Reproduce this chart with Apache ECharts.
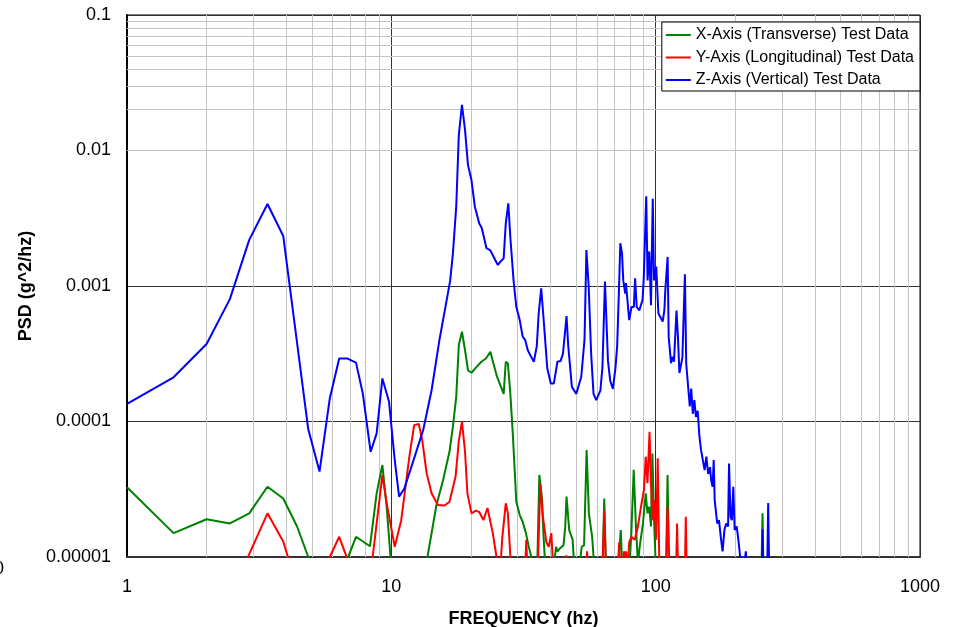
<!DOCTYPE html>
<html><head><meta charset="utf-8">
<script src="https://cdn.jsdelivr.net/npm/echarts@6/dist/echarts.min.js"></script>
<style>html,body{margin:0;padding:0;background:#fff}#c{width:955px;height:627px}</style>
</head><body><div id="c"></div>
<script>
// ---------- tick labels ----------
const xTickLabels = ['1', '10', '100', '1000'];
const yTickLabels = ['0.00001', '0.0001', '0.001', '0.01', '0.1'];
const xMinorTicks = [2,3,4,5,6,7,8,9,20,30,40,50,60,70,80,90,200,300,400,500,600,700,800,900];
const yMinorTicks = [2e-5,3e-5,4e-5,5e-5,6e-5,7e-5,8e-5,9e-5,2e-4,3e-4,4e-4,5e-4,6e-4,7e-4,8e-4,9e-4,
                     2e-3,3e-3,4e-3,5e-3,6e-3,7e-3,8e-3,9e-3,2e-2,3e-2,4e-2,5e-2,6e-2,7e-2,8e-2,9e-2];
const seriesNames = ['X-Axis (Transverse) Test Data', 'Y-Axis (Longitudinal) Test Data', 'Z-Axis (Vertical) Test Data'];

// ---------- X-Axis (Transverse) ----------
const transFreq = [
 1,1.5,2,2.45,2.9,3.4,3.9,4.4,4.85,5.35,
 5.85,6.35,6.8,7.35,8.3,8.8,9.25,9.6,9.95,10.5,
 11.5,12.5,13.2,13.7,14.8,15.7,16.6,17.1,17.6,18.0,
 18.5,19.0,19.5,20.1,20.9,21.9,22.8,23.7,24.2,25.1,
 25.8,26.6,27.1,27.6,28.2,28.8,29.7,30.6,31.4,32.3,
 33.1,34.1,35.5,36.3,37.2,37.6,38.3,41.0,42.0,42.5,
 43.3,44.8,45.5,46.0,46.3,47.1,48.5,49.3,51.3,52.5,
 53.6,54.8,55.9,57.5,58.7,62.9,63.9,64.9,72.0,73.8,
 74.8,79.5,80.9,82.6,84.3,85.7,87.0,89.5,91.7,93.1,
 94.5,96.0,97.2,98.6,100,109.5,110.9,112.5,251,253.7,
 256];
const transPsd = [
 3.27e-5,1.5e-5,1.9e-5,1.77e-5,2.1e-5,3.3e-5,2.7e-5,1.68e-5,1.0e-5,5e-6,
 4e-6,5e-6,9.5e-6,1.41e-5,1.2e-5,2.95e-5,4.77e-5,2.35e-5,9.5e-6,4e-6,
 3e-6,3e-6,5e-6,1.0e-5,2.4e-5,3.7e-5,6.0e-5,9.2e-5,1.52e-4,3.67e-4,
 4.6e-4,3.37e-4,2.38e-4,2.29e-4,2.5e-4,2.76e-4,2.92e-4,3.27e-4,2.8e-4,2.14e-4,
 1.87e-4,1.6e-4,2.76e-4,2.69e-4,1.6e-4,8.2e-5,2.56e-5,2.04e-5,1.82e-5,1.5e-5,
 1.19e-5,9.5e-6,6e-6,4.03e-5,2.64e-5,1.5e-5,8e-6,8e-6,1.19e-5,1.1e-5,
 1.15e-5,1.22e-5,1.68e-5,2.79e-5,2.7e-5,1.58e-5,1.34e-5,8e-6,8e-6,1.19e-5,
 1.22e-5,6.17e-5,2.1e-5,1.41e-5,8e-6,8e-6,2.7e-5,8e-6,8e-6,1.58e-5,
 8e-6,8e-6,1.5e-5,4.4e-5,1.6e-5,9e-6,1.19e-5,1.77e-5,2.95e-5,2.1e-5,
 2.35e-5,1.68e-5,5.8e-5,1.87e-5,9e-6,8e-6,4.03e-5,8e-6,7e-6,2.1e-5,
 7e-6];

// ---------- Y-Axis (Longitudinal) ----------
const longFreq = [
 1,1.5,2,2.45,2.9,3.4,3.9,4.4,5.35,5.85,
 6.35,6.8,7.35,8.5,9.25,9.6,10.3,10.9,11.7,12.2,
 12.7,13.1,13.6,14.2,15.0,15.9,16.6,17.5,18.0,18.5,
 19.0,19.4,20.1,20.9,21.5,22.3,23.1,24.2,25.0,25.7,
 26.3,27.1,27.6,28.3,29.5,32.0,32.4,32.8,35.8,36.6,
 37.3,38.6,39.4,40.3,41.0,45.4,45.9,46.4,54.5,55.0,
 55.5,62.9,63.9,64.9,72.0,72.7,73.5,74.8,75.9,76.6,
 77.3,78.3,79.4,80.9,83.3,85.7,88.0,90.3,91.7,93.1,
 94.8,96.0,97.4,98.9,100.4,101.8,103.3,109.5,110.9,112.5,
 119.5,120.5,121.5,129,130,131,135];
const longPsd = [
 4e-6,3e-6,4e-6,5e-6,1.05e-5,2.1e-5,1.3e-5,6e-6,4e-6,1.0e-5,
 1.41e-5,9.8e-6,5e-6,1.0e-5,4.03e-5,2.5e-5,1.19e-5,1.87e-5,5.5e-5,9.4e-5,
 9.6e-5,7.2e-5,4.15e-5,2.95e-5,2.42e-5,2.4e-5,2.56e-5,3.92e-5,7.2e-5,9.97e-5,
 6.0e-5,2.95e-5,2.1e-5,2.2e-5,2.15e-5,1.87e-5,2.3e-5,1.5e-5,1.0e-5,7e-6,
 1.41e-5,2.49e-5,2.1e-5,9e-6,6e-6,7e-6,1.34e-5,7e-6,8e-6,3.5e-5,
 2.1e-5,1.28e-5,1.19e-5,1.5e-5,8e-6,8e-6,1.03e-5,8e-6,8e-6,1.1e-5,
 8e-6,8e-6,2.2e-5,8e-6,8e-6,1.28e-5,8e-6,8e-6,1.1e-5,9e-6,
 1.1e-5,8e-6,1.28e-5,1.41e-5,1.34e-5,1.68e-5,2.35e-5,3.12e-5,5.5e-5,3.5e-5,
 8.4e-5,3.5e-5,1.87e-5,2.64e-5,1.34e-5,5.35e-5,8e-6,8e-6,2.37e-5,8e-6,
 8e-6,1.77e-5,8e-6,8e-6,1.98e-5,8e-6,5e-6];

// ---------- Z-Axis (Vertical) ----------
const vertFreq = [
 1,1.5,2,2.45,2.9,3.4,3.9,4.85,5.35,5.85,
 6.35,6.8,7.35,7.8,8.35,8.8,9.25,9.8,10.3,10.7,
 11.2,11.8,13.2,14.2,15.2,16.2,16.7,17.1,17.6,18.0,
 18.5,19.0,19.5,20.1,20.7,21.5,22.0,22.9,23.7,25.0,
 25.3,26.0,26.6,27.1,27.7,28.2,29.0,29.7,30.6,31.4,
 32.1,32.8,33.8,34.6,35.5,36.1,36.9,37.7,38.9,40.1,
 41.2,42.5,43.7,44.6,46.0,46.7,48.2,50.1,52.3,53.8,
 54.7,55.8,57.0,58.2,59.6,61.8,62.9,64.3,66.0,67.3,
 68.9,70.5,71.5,72.5,73.5,74.6,75.4,76.7,77.2,79.4,
 81.0,82.7,83.6,84.8,86.7,89.2,90.2,92.1,93.2,94.6,
 96.0,97.5,98.6,100.5,102.4,106.3,107.9,108.8,111,112,
 114.3,115.8,117.3,119.9,121.4,123,124.6,126.2,129,130.5,
 132.4,134.6,136.3,138.2,140.1,142,144.2,146.3,148.4,150.8,
 153.2,155.5,158,160.6,162.1,164.2,165.8,167.2,170.9,173.6,
 176.3,179.1,182,184.9,187.9,189.5,192,194.2,196.6,199,
 202.6,205.6,208.8,212.7,215.5,219.3,222,252,253.7,255.5,
 264,266.5,269];
const vertPsd = [
 1.35e-4,2.12e-4,3.73e-4,8.0e-4,2.19e-3,4.03e-3,2.34e-3,8.75e-5,4.27e-5,1.48e-4,
 2.92e-4,2.92e-4,2.72e-4,1.61e-4,5.98e-5,8.18e-5,2.08e-4,1.4e-4,5.2e-5,2.79e-5,
 3.2e-5,4.38e-5,8.65e-5,1.7e-4,3.99e-4,7.9e-4,1.1e-3,1.74e-3,3.85e-3,1.3e-2,
 2.17e-2,1.42e-2,7.8e-3,6.05e-3,3.85e-3,2.9e-3,2.67e-3,1.9e-3,1.83e-3,1.49e-3,
 1.43e-3,1.53e-3,1.6e-3,2.9e-3,4.07e-3,2.28e-3,1.1e-3,7.03e-4,5.6e-4,4.23e-4,
 3.99e-4,3.37e-4,3.0e-4,2.76e-4,3.6e-4,6.3e-4,9.6e-4,5.6e-4,2.47e-4,1.91e-4,
 1.91e-4,2.76e-4,2.8e-4,3.17e-4,6.0e-4,3.6e-4,1.8e-4,1.6e-4,2.14e-4,4.0e-4,
 1.84e-3,9.9e-4,3.17e-4,1.6e-4,1.44e-4,1.7e-4,2.52e-4,1.08e-3,2.8e-4,2.0e-4,
 1.74e-4,2.52e-4,3.6e-4,8.3e-4,2.07e-3,1.74e-3,1.1e-3,8.8e-4,1.05e-3,5.6e-4,
 7.0e-4,7.0e-4,1.14e-3,7.0e-4,6.6e-4,7.9e-4,1.17e-3,4.6e-3,1.1e-3,1.8e-3,
 7.2e-4,4.4e-3,1.1e-3,1.39e-3,6.3e-4,5.46e-4,6.65e-4,9.4e-4,1.64e-3,4.23e-4,
 2.69e-4,3.0e-4,2.76e-4,6.6e-4,4.23e-4,2.28e-4,2.3e-4,2.96e-4,1.22e-3,2.67e-4,
 1.9e-4,1.29e-4,1.75e-4,1.14e-4,1.44e-4,1.08e-4,1.2e-4,7.9e-5,6.2e-5,5.2e-5,
 4.38e-5,5.5e-5,4.1e-5,4.6e-5,3.7e-5,3.3e-5,5.2e-5,2.64e-5,1.77e-5,1.87e-5,
 1.41e-5,1.1e-5,1.58e-5,1.77e-5,1.68e-5,4.9e-5,1.98e-5,1.87e-5,3.3e-5,1.58e-5,
 1.68e-5,1.33e-5,1.0e-5,7e-6,8e-6,1.1e-5,8e-6,7e-6,1.6e-5,7e-6,
 7e-6,2.5e-5,7e-6];

const FONT = "'Liberation Sans', Arial, Helvetica, sans-serif";
const zip = (f, p) => f.map((v, i) => [v, p[i]]);

const chart = echarts.init(document.getElementById('c'), null, {renderer: 'canvas'});

const dataSeries = [
  {name: seriesNames[0], color: '#008000', data: zip(transFreq, transPsd)},
  {name: seriesNames[1], color: '#ff0000', data: zip(longFreq, longPsd)},
  {name: seriesNames[2], color: '#0000ff', data: zip(vertFreq, vertPsd)}
].map(s => ({
  name: s.name, type: 'line', data: s.data, symbol: 'none', showSymbol: false,
  clip: true, z: 5, silent: true,
  lineStyle: {color: s.color, width: 2}, itemStyle: {color: s.color}
}));

const minorGrid = {
  name: '_grid', type: 'line', data: [[1, 1e-9]], symbol: 'none', silent: true, z: 1,
  lineStyle: {width: 0, opacity: 0},
  markLine: {
    silent: true, symbol: ['none', 'none'], animation: false,
    label: {show: false},
    lineStyle: {color: '#c4c4c4', width: 1, type: 'solid'},
    emphasis: {disabled: true},
    data: xMinorTicks.map(v => ({xAxis: v})).concat(yMinorTicks.map(v => ({yAxis: v})))
  }
};

chart.setOption({
  animation: false,
  backgroundColor: '#ffffff',
  grid: {left: 127, right: 35, top: 15, bottom: 70, show: true, borderColor: '#000', borderWidth: 1,
         backgroundColor: 'transparent', containLabel: false, outerBoundsMode: 'none'},
  legend: {
    data: seriesNames.map(n => ({name: n, icon: 'rect'})),
    orient: 'vertical', right: 35, top: 22,
    backgroundColor: '#fff', borderColor: '#000', borderWidth: 1,
    padding: [5, 6, 3, 4], itemWidth: 25, itemHeight: 2, itemGap: 6.5,
    textStyle: {fontFamily: FONT, fontSize: 16, color: '#000'},
    z: 10
  },
  xAxis: {
    type: 'log', logBase: 10, min: 1, max: 1000,
    name: 'FREQUENCY (hz)', nameLocation: 'middle', nameGap: 53,
    nameTextStyle: {fontFamily: FONT, fontSize: 18, fontWeight: 'bold', color: '#000'},
    axisLine: {show: true, onZero: false, lineStyle: {color: '#333', width: 2}},
    axisTick: {show: false}, minorTick: {show: false},
    axisLabel: {fontFamily: FONT, fontSize: 18, color: '#000', margin: 21,
      formatter: v => xTickLabels[Math.round(Math.log10(v))]},
    splitLine: {show: true, lineStyle: {color: '#303030', width: 1}}
  },
  yAxis: {
    type: 'log', logBase: 10, min: 1e-5, max: 0.1,
    name: 'PSD (g^2/hz)', nameLocation: 'middle', nameGap: 85, nameRotate: 90,
    nameTextStyle: {fontFamily: FONT, fontSize: 18, fontWeight: 'bold', color: '#000'},
    axisLine: {show: true, onZero: false, lineStyle: {color: '#000', width: 2}},
    axisTick: {show: false}, minorTick: {show: false},
    axisLabel: {fontFamily: FONT, fontSize: 18, color: '#000', margin: 16,
      formatter: v => yTickLabels[Math.round(Math.log10(v)) + 5]},
    splitLine: {show: true, lineStyle: {color: '#303030', width: 1}}
  },
  graphic: [{
    type: 'text', left: -6, top: 560,
    style: {text: '0', font: '18px ' + FONT, fill: '#000'}
  }],
  series: [minorGrid].concat(dataSeries)
});
</script>
</body></html>
